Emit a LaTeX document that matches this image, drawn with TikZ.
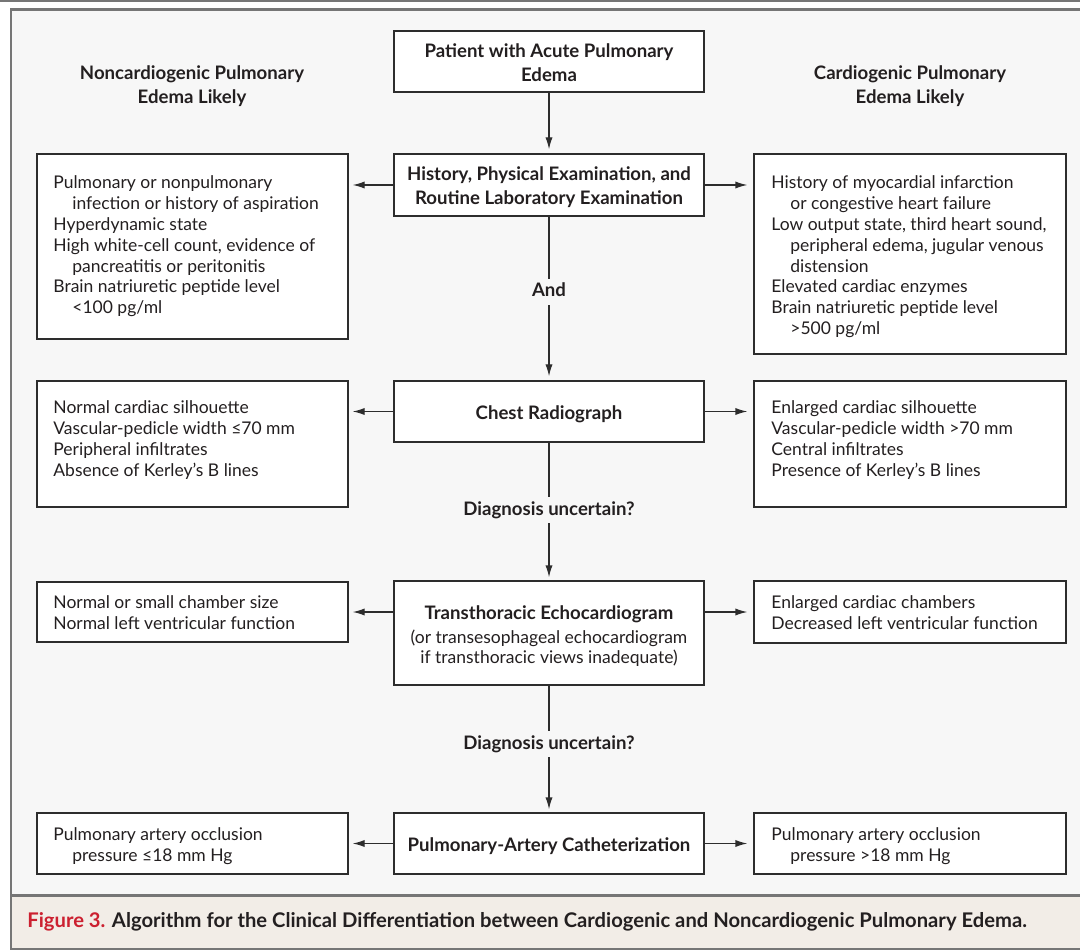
\documentclass[tikz,border=0pt]{standalone}
\usepackage{fontspec}
\setmainfont{Lato}
\usetikzlibrary{arrows.meta}
\definecolor{framegray}{RGB}{118,118,118}
\definecolor{bgray}{RGB}{247,247,247}
\definecolor{capbg}{RGB}{242,237,231}
\definecolor{txt}{RGB}{35,31,32}
\definecolor{nejmred}{RGB}{204,32,48}
\definecolor{boxline}{RGB}{45,45,45}
\newcommand{\hi}{\hspace*{9.5pt}}
\newcommand{\lbx}[1]{\parbox[t]{170pt}{\raggedright #1}}
\newcommand{\cbx}[1]{\parbox[t]{170pt}{\centering #1}}
\begin{document}
\begin{tikzpicture}[x=0.5pt,y=-0.5pt,
  box/.style={draw=boxline,fill=white,line width=0.65pt,inner sep=0pt},
  body/.style={font=\fontsize{8.75}{10.45}\selectfont,text=txt,inner sep=0pt,anchor=base west},
  cbody/.style={font=\fontsize{8.75}{10.45}\selectfont,text=txt,inner sep=0pt,anchor=base},
  head/.style={font=\bfseries\fontsize{9.3}{12}\selectfont,text=txt,inner sep=0pt,anchor=base},
  lab/.style={font=\bfseries\fontsize{9.3}{11}\selectfont,text=txt,inner sep=2pt,text height=7pt,text depth=2pt},
  arr/.style={line width=0.65pt,draw=boxline,-{Latex[length=6pt,width=3.6pt]}},
  ln/.style={line width=0.65pt,draw=boxline}]
\useasboundingbox (0,0) rectangle (1080,951);
\clip (0,0) rectangle (1080,951);
% frame
\fill[bgray] (11,9.5) rectangle (1100,949);
\fill[capbg] (11,895.5) rectangle (1100,949);
\draw[framegray,line width=1.2pt] (11,895.5) -- (1100,895.5);
\draw[framegray,line width=1.3pt] (11,9.5) rectangle (1100,949);
\draw[framegray,line width=1pt] (0,1.5) -- (1080,1.5);
% headers
\node[head] (lhead) at (192,80) {\cbx{Noncardiogenic Pulmonary\\Edema Likely}};
\node[head] (rhead) at (910,80) {\cbx{Cardiogenic Pulmonary\\Edema Likely}};
% central boxes
\node[box,minimum width=155pt,minimum height=30.5pt] (pat) at (549,61.5) {};
\node[head] at (549,58) {\cbx{Patient with Acute Pulmonary\\Edema}};
\node[box,minimum width=155pt,minimum height=31pt] (hist) at (549,185) {};
\node[head] at (549,181) {\cbx{History, Physical Examination, and\\Routine Laboratory Examination}};
\node[box,minimum width=155pt,minimum height=30.5pt] (chest) at (549,411.5) {};
\node[head] at (549,420) {Chest Radiograph};
\node[box,minimum width=155pt,minimum height=52pt] (echo) at (549,633) {};
\node[head] at (549,619.5) {Transthoracic Echocardiogram};
\node[cbody] at (549,643) {\cbx{(or transesophageal echocardiogram\\if transthoracic views inadequate)}};
\node[box,minimum width=155pt,minimum height=30.5pt] (cath) at (549,843.5) {};
\node[head] at (549,851) {Pulmonary-Artery Catheterization};
% left boxes
\node[box,minimum width=155.5pt,minimum height=92.5pt] (L1) at (192.5,246.5) {};
\node[body] at (53,188.5) {\lbx{Pulmonary or nonpulmonary\\\hi infection or history of aspiration\\Hyperdynamic state\\High white-cell count, evidence of\\\hi pancreatitis or peritonitis\\Brain natriuretic peptide level\\\hi <100 pg/ml}};
\node[box,minimum width=155.5pt,minimum height=63pt] (L2) at (192.5,444) {};
\node[body] at (53,413.5) {\lbx{Normal cardiac silhouette\\Vascular-pedicle width ≤70 mm\\Peripheral infiltrates\\Absence of Kerley’s B lines}};
\node[box,minimum width=155.5pt,minimum height=30pt] (L3) at (192.5,612) {};
\node[body] at (53,608.5) {\lbx{Normal or small chamber size\\Normal left ventricular function}};
\node[box,minimum width=155.5pt,minimum height=30.5pt] (L4) at (192.5,843.5) {};
\node[body] at (53,840.5) {\lbx{Pulmonary artery occlusion\\\hi pressure ≤18 mm Hg}};
% right boxes
\node[box,minimum width=156pt,minimum height=100pt] (R1) at (910,254) {};
\node[body] at (771,188.5) {\lbx{History of myocardial infarction\\\hi or congestive heart failure\\Low output state, third heart sound,\\\hi peripheral edema, jugular venous\\\hi distension\\Elevated cardiac enzymes\\Brain natriuretic peptide level\\\hi >500 pg/ml}};
\node[box,minimum width=156pt,minimum height=63pt] (R2) at (910,444) {};
\node[body] at (771,413.5) {\lbx{Enlarged cardiac silhouette\\Vascular-pedicle width >70 mm\\Central infiltrates\\Presence of Kerley’s B lines}};
\node[box,minimum width=156pt,minimum height=31pt] (R3) at (910,612) {};
\node[body] at (771,608.5) {\lbx{Enlarged cardiac chambers\\Decreased left ventricular function}};
\node[box,minimum width=156pt,minimum height=30.5pt] (R4) at (910,843.5) {};
\node[body] at (771,840.5) {\lbx{Pulmonary artery occlusion\\\hi pressure >18 mm Hg}};
% labels
\node[lab] (and) at (549,292) {And};
\node[lab] (du1) at (549,510) {Diagnosis uncertain?};
\node[lab] (du2) at (549,744) {Diagnosis uncertain?};
% connectors
\draw[arr,shorten >=2pt] (pat) -- (hist);
\draw[ln] (hist) -- (and);
\draw[arr,shorten >=2pt] (and) -- (chest);
\draw[ln] (chest) -- (du1);
\draw[arr,shorten >=1.5pt] (du1) -- (echo);
\draw[ln] (echo) -- (du2);
\draw[arr,shorten >=1.5pt] (du2) -- (cath);
\draw[arr,shorten >=2pt] (hist.west) -- (hist.west -| L1.east);
\draw[arr,shorten >=3pt] (hist.east) -- (hist.east -| R1.west);
\draw[arr,shorten >=2pt] (chest.west) -- (chest.west -| L2.east);
\draw[arr,shorten >=3pt] (chest.east) -- (chest.east -| R2.west);
\draw[arr,shorten >=2pt] (echo.west |- L3.east) -- (L3.east);
\draw[arr,shorten >=3pt] (echo.east |- R3.west) -- (R3.west);
\draw[arr,shorten >=2pt] (cath.west) -- (L4.east);
\draw[arr,shorten >=3pt] (cath.east) -- (R4.west);
% caption
\node[anchor=base west,inner sep=0pt,font=\bfseries\fontsize{10.1}{12}\selectfont,text=txt] (cap) at (27,927) {\textcolor{nejmred}{Figure 3.} Algorithm for the Clinical Differentiation between Cardiogenic and Noncardiogenic Pulmonary Edema.};
\end{tikzpicture}
\end{document}
